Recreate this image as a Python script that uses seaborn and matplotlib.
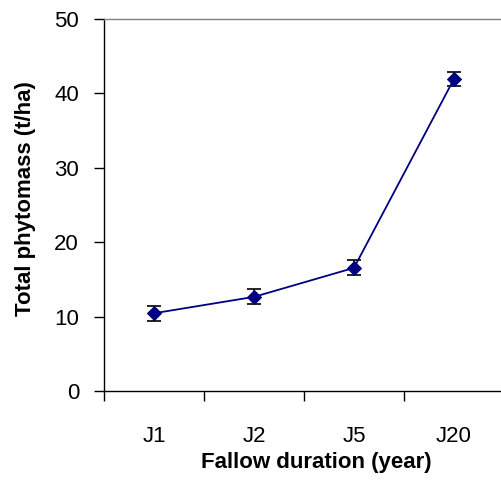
import matplotlib
matplotlib.use("Agg")
import matplotlib.pyplot as plt
import seaborn as sns
import pandas as pd

# Values.
fallow = ['J1', 'J2', 'J5', 'J20']
phytomass = [10.45, 12.65, 16.55, 41.95]
errors = [1.0, 1.0, 1.0, 0.95]

df = pd.DataFrame({'fallow': fallow, 'phytomass': phytomass, 'err': errors})

sns.set_style('white')
plt.rcParams['font.family'] = ['Liberation Sans', 'DejaVu Sans']
plt.rcParams['text.color'] = 'black'
plt.rcParams['axes.labelcolor'] = 'black'
plt.rcParams['xtick.color'] = 'black'
plt.rcParams['ytick.color'] = 'black'

fig = plt.figure(figsize=(5.02, 4.93), dpi=100)
ax = fig.add_axes([104 / 502, 1 - 391 / 493, 400 / 502, 372 / 493])

# Error bars under the line and markers.
ax.errorbar(df['fallow'], df['phytomass'], yerr=df['err'], fmt='none',
            ecolor='black', elinewidth=1.2, capsize=5, capthick=1.2, zorder=2)
sns.lineplot(data=df, x='fallow', y='phytomass', ax=ax, color='#000080',
             marker='D', markersize=7.5, markeredgecolor='#000080',
             linewidth=1.3, sort=False, zorder=3)

ax.set_xlim(-0.5, 3.5)
ax.set_ylim(0, 50)
ax.set_yticks([0, 10, 20, 30, 40, 50])

for side in ['left', 'bottom']:
    ax.spines[side].set_color('black')
    ax.spines[side].set_linewidth(1.0)
ax.spines['top'].set_color('#808080')
ax.spines['top'].set_linewidth(1.0)
ax.spines['right'].set_visible(False)

ax.set_xticks([-0.5, 0.5, 1.5, 2.5, 3.5], minor=False)
ax.set_xticklabels([])
ax.set_xticks([0, 1, 2, 3], minor=True)
ax.set_xticklabels(fallow, minor=True)
ax.tick_params(axis='x', which='major', direction='out', length=7, width=1,
               color='black', bottom=True)
ax.tick_params(axis='x', which='minor', length=0, pad=25, labelsize=16)
ax.tick_params(axis='y', direction='out', length=7, width=1, color='black',
               left=True, pad=11, labelsize=16)

ax.set_xlabel('Fallow duration (year)', fontsize=16, fontweight='bold')
ax.set_ylabel('Total phytomass (t/ha)', fontsize=16, fontweight='bold')
ax.xaxis.set_label_coords(0.532, -0.165)
ax.yaxis.set_label_coords(-0.17, 0.516)

fig.savefig('out.png', dpi=100)
